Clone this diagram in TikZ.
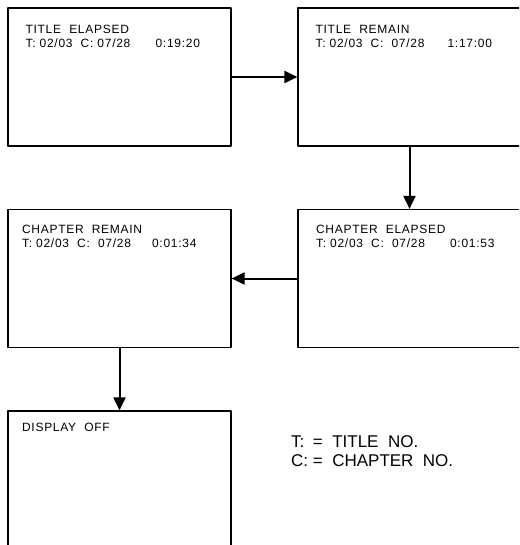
\documentclass[tikz,border=0pt]{standalone}
\usepackage{fontspec}
\setmainfont{Liberation Sans}
\newfontfamily\myboxfont[LetterSpace=6]{Liberation Sans}
\usetikzlibrary{arrows.meta}
\begin{document}
\begin{tikzpicture}[x=1pt,y=-1pt,line join=round,>={Triangle[length=13pt,width=12pt]}]
                \def\mybxw{223}\def\mybxh{138}\def\mytab{130pt}
                \tikzset{mybox/.style={draw,line width=1.2pt,minimum width=\mybxw pt,minimum height=\mybxh pt,inner sep=0pt},
                    mytxt/.style={anchor=base west,inner sep=0pt,align=left,font=\myboxfont\fontsize{12}{14}\selectfont},
                    myarr/.style={->,line width=2pt}}
                \useasboundingbox (0,0) rectangle (519,545);
                \clip (0,0) rectangle (519,545);
                \node[mybox] (nmybxa) at (119.5,77) {};
                \node[mybox] (nmybxb) at (409.5,77) {};
                \node[mybox] (nmybxc) at (409.5,278.5) {};
                \node[mybox] (nmybxd) at (119.5,278.5) {};
                \node[mybox] (nmybxe) at (119.5,480) {};
                \node[mytxt] (nmytxa) at ([xshift=18pt,yshift=-40pt]nmybxa.north west) {TITLE~~ELAPSED\\\makebox[\mytab][l]{T:~02/03~~C:~07/28}0:19:20};
                \node[mytxt] (nmytxb) at ([xshift=18pt,yshift=-40pt]nmybxb.north west) {TITLE~~REMAIN\\\makebox[132pt][l]{T:~02/03~~C:~~07/28}1:17:00};
                \node[mytxt] (nmytxc) at ([xshift=18.5pt,yshift=-39pt]nmybxc.north west) {CHAPTER~~ELAPSED\\\makebox[134pt][l]{T:~02/03~~C:~~07/28}0:01:53};
                \node[mytxt] (nmytxd) at ([xshift=14.5pt,yshift=-39pt]nmybxd.north west) {CHAPTER~~REMAIN\\\makebox[\mytab][l]{T:~02/03~~C:~~07/28}0:01:34};
                \node[mytxt] (nmytxe) at ([xshift=14.5pt,yshift=-21.5pt]nmybxe.north west) {DISPLAY~~OFF};
                \node[anchor=base west,inner sep=0pt,align=left,font=\fontsize{17}{19}\selectfont] (nmyleg) at (291,466) {\makebox[21.7pt][l]{T:}=~~TITLE~~NO.\\C:~=~~CHAPTER~~NO.};
                \draw[myarr] (nmybxa)--(nmybxb);
                \draw[myarr] (nmybxb)--(nmybxc);
                \draw[myarr] (nmybxc)--(nmybxd);
                \draw[myarr] (nmybxd)--(nmybxe);
\end{tikzpicture}
\end{document}
